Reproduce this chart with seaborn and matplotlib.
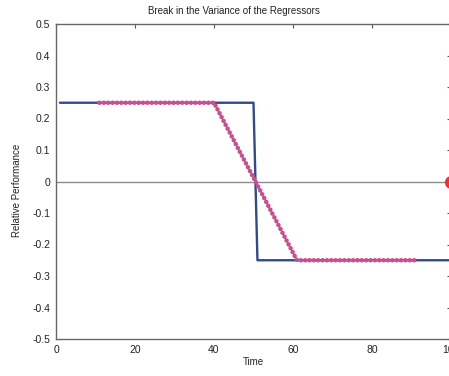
import matplotlib
matplotlib.use("Agg")
import matplotlib.pyplot as plt
import seaborn as sns
import pandas as pd

# Data
blue_x = [1, 50, 51, 100]
blue_y = [0.25, 0.25, -0.25, -0.25]

dot_x = [11, 40, 61, 91]
dot_y = [0.25, 0.25, -0.25, -0.25]

red_x = [100]
red_y = [0.0]

x_ticks = [0, 20, 40, 60, 80, 100]
x_ticklabels = ["0", "20", "40", "60", "80", "100"]
y_ticks = [-0.5, -0.4, -0.3, -0.2, -0.1, 0, 0.1, 0.2, 0.3, 0.4, 0.5]
y_ticklabels = ["-0.5", "-0.4", "-0.3", "-0.2", "-0.1", "0", "0.1", "0.2", "0.3", "0.4", "0.5"]

title = "Break in the Variance of the Regressors"
xlabel = "Time"
ylabel = "Relative Performance"

sns.set_style("white")
plt.rcParams['font.family'] = ['Liberation Sans', 'DejaVu Sans']
plt.rcParams['axes.unicode_minus'] = False

fig = plt.figure(figsize=(4.49, 3.76), dpi=100)
ax = fig.add_axes([56/449, 37/376, (451-56)/449, (339-24)/376])

ax.axhline(0, color="#8c8c8c", lw=1.0, zorder=1)

blue_df = pd.DataFrame({"x": blue_x, "y": blue_y})
sns.lineplot(data=blue_df, x="x", y="y", ax=ax, color="#2f4b8e", linewidth=1.7, sort=False, zorder=2)

dot_df = pd.DataFrame({"x": dot_x, "y": dot_y})
sns.lineplot(data=dot_df, x="x", y="y", ax=ax, color="#c8508f", linewidth=3.3, sort=False, zorder=3,
             linestyle=(0, (0.001, 0.95)), dash_capstyle="round")

red_df = pd.DataFrame({"x": red_x, "y": red_y})
sns.scatterplot(data=red_df, x="x", y="y", ax=ax, color="#ff2a2a", s=90, linewidth=0, zorder=4, clip_on=False)

ax.set_xlim(0, 100)
ax.set_ylim(-0.5, 0.5)
ax.set_xticks(x_ticks)
ax.set_xticklabels(x_ticklabels)
ax.set_yticks(y_ticks)
ax.set_yticklabels(y_ticklabels)
ax.tick_params(direction="in", length=3, width=0.8, color="#555555",
               top=True, right=True, labelsize=7.5, pad=4, labelcolor="#222222")
for sp in ax.spines.values():
    sp.set_color("#666666")
    sp.set_linewidth(1.0)

ax.set_title(title, fontsize=7, color="#222222", pad=7, x=(234 - 56) / 395)
ax.set_xlabel(xlabel, fontsize=7, color="#222222", labelpad=2)
ax.set_ylabel(ylabel, fontsize=7, color="#222222")
ax.yaxis.set_label_coords((22 - 56) / 395, (339 - 190) / 315)

fig.savefig("out.png", dpi=100)
